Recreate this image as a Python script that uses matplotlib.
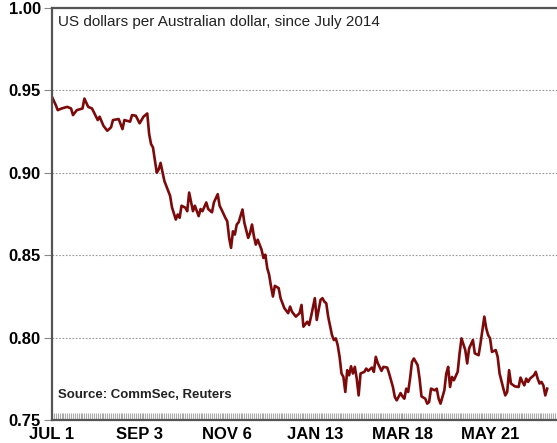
import numpy as np
import matplotlib
matplotlib.use("Agg")
import matplotlib.pyplot as plt
from matplotlib.ticker import MultipleLocator

# trading day (counted from 1 July 2014) and US$ per A$
day = [0, 2, 3, 5, 8, 10, 11, 13, 16, 17, 19, 21, 24, 25, 27, 29, 31, 32, 35, 37,
       38, 41, 42, 44, 46, 48, 50, 51, 52, 53, 55, 56, 57, 59, 60, 62, 63, 65, 66, 67,
       68, 70, 71, 72, 74, 75, 77, 78, 79, 81, 82, 84, 85, 87, 88, 89, 91, 92, 93, 94,
       95, 96, 97, 98, 100, 101, 103, 104, 105, 106, 107, 108, 110, 111, 112, 113, 114, 115, 116, 117,
       119, 120, 122, 124, 125, 126, 128, 130, 131, 132, 134, 135, 136, 138, 139, 141, 142, 143, 144, 145,
       147, 148, 149, 150, 151, 152, 153, 154, 155, 156, 157, 158, 159, 160, 161, 162, 164, 165, 166, 168,
       169, 170, 171, 173, 174, 176, 177, 179, 180, 181, 183, 184, 185, 186, 187, 188, 189, 190, 192, 193,
       194, 196, 197, 198, 199, 201, 202, 203, 204, 206, 207, 208, 209, 210, 211, 213, 214, 215, 217, 218,
       219, 221, 222, 224, 225, 226, 227, 228, 229, 230, 231, 233, 234, 235, 237, 238, 239, 240, 241, 243,
       245, 246, 247, 248, 249, 250, 251, 253, 254, 255, 256, 257, 258, 259, 260]
rate = [0.946, 0.941, 0.938, 0.939, 0.940, 0.939, 0.935, 0.938, 0.939, 0.945, 0.940, 0.939, 0.932, 0.934, 0.9285, 0.9255, 0.9276, 0.932, 0.9326, 0.9265,
        0.932, 0.931, 0.935, 0.9346, 0.930, 0.934, 0.936, 0.9235, 0.9174, 0.9154, 0.900, 0.902, 0.906, 0.895, 0.892, 0.886, 0.879, 0.8716, 0.8747, 0.8727,
        0.880, 0.8788, 0.8767, 0.888, 0.8767, 0.880, 0.8737, 0.878, 0.8767, 0.882, 0.878, 0.876, 0.882, 0.887, 0.880, 0.8777, 0.8727, 0.8706, 0.8605, 0.8544,
        0.8645, 0.8625, 0.8686, 0.870, 0.8777, 0.8696, 0.8605, 0.8635, 0.8686, 0.8615, 0.8564, 0.8594, 0.8534, 0.8483, 0.8503, 0.8422, 0.8381, 0.831, 0.8249, 0.8314,
        0.830, 0.8239, 0.8178, 0.8148, 0.8188, 0.8157, 0.8127, 0.8148, 0.8198, 0.8066, 0.8096, 0.8076, 0.8127, 0.8239, 0.8107, 0.8229, 0.8239, 0.8218, 0.8208, 0.8127,
        0.8015, 0.7985, 0.7995, 0.7954, 0.7883, 0.7782, 0.7761, 0.767, 0.7802, 0.7771, 0.7826, 0.7782, 0.7822, 0.7751, 0.7649, 0.7782, 0.7792, 0.7812, 0.7798, 0.7818,
        0.7792, 0.7883, 0.7846, 0.7798, 0.7822, 0.7818, 0.7782, 0.770, 0.7639, 0.7619, 0.7663, 0.7643, 0.7629, 0.769, 0.767, 0.7751, 0.7852, 0.7873, 0.7832, 0.7751,
        0.7643, 0.7629, 0.7599, 0.7609, 0.769, 0.768, 0.769, 0.7629, 0.7599, 0.768, 0.778, 0.7822, 0.770, 0.7761, 0.7741, 0.7792, 0.7904, 0.7995, 0.7924, 0.7843,
        0.7934, 0.7985, 0.7904, 0.7893, 0.7965, 0.8046, 0.8127, 0.8056, 0.8015, 0.7995, 0.7913, 0.7924, 0.7883, 0.7782, 0.769, 0.7649, 0.767, 0.7802, 0.7721, 0.7704,
        0.770, 0.7757, 0.7731, 0.771, 0.7751, 0.7731, 0.7751, 0.7771, 0.7792, 0.7751, 0.7721, 0.7731, 0.771, 0.7649, 0.769]

tick_days = [0, 46, 92, 138, 184, 230]
tick_labels = ["JUL 1", "SEP 3", "NOV 6", "JAN 13", "MAR 18", "MAY 21"]

plt.rcParams['font.family'] = ['Liberation Sans', 'DejaVu Sans']

fig = plt.figure(figsize=(5.57, 4.43), dpi=100)
ax = fig.add_axes([0.0934, 0.052, 0.93, 0.930])

ax.plot(day, rate, color="#7d0a0a", linewidth=1.9, solid_joinstyle="round")

ax.set_ylim(0.75, 1.00)
ax.set_xlim(0, 272)
ax.set_yticks([0.75, 0.80, 0.85, 0.90, 0.95, 1.00])
ax.set_yticklabels(["0.75", "0.80", "0.85", "0.90", "0.95", "1.00"], fontweight="bold", fontsize=12)
ax.set_xticks(tick_days)
ax.set_xticklabels(tick_labels, fontweight="bold", fontsize=12)
ax.xaxis.set_minor_locator(MultipleLocator(1))

ax.grid(axis="y", linestyle=(0, (1.5, 1.5)), color="#999999", linewidth=0.8)
ax.tick_params(axis="y", direction="out", length=6, color="#888888", pad=2)
ax.tick_params(axis="x", which="major", direction="in", length=5, color="#999999", pad=5)
ax.tick_params(axis="x", which="minor", direction="in", length=5, color="#aaaaaa", width=0.8)

for side in ["left", "top", "bottom"]:
    ax.spines[side].set_color("#555555")
    ax.spines[side].set_linewidth(1.6)
ax.spines["right"].set_visible(False)

ax.text(0.012, 0.965, "US dollars per Australian dollar, since July 2014",
        transform=ax.transAxes, fontsize=11, va="center", ha="left", color="#222222")
ax.text(0.012, 0.06, "Source: CommSec, Reuters",
        transform=ax.transAxes, fontsize=9.5, fontweight="bold", va="center", ha="left", color="#222222")

fig.savefig("out.png", dpi=100)
